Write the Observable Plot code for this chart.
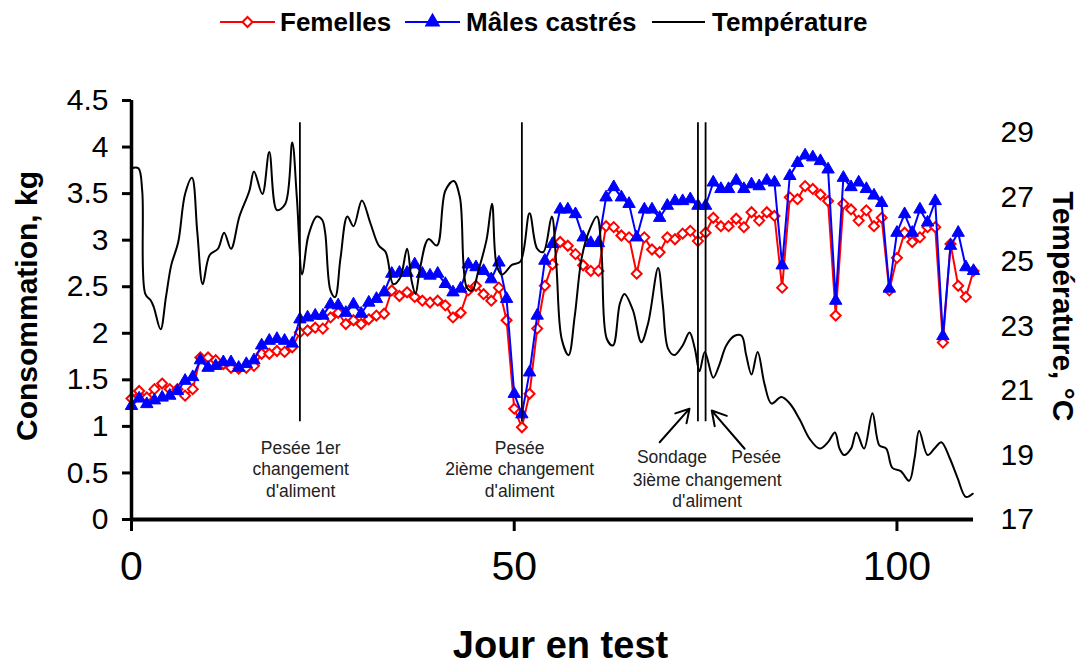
<!DOCTYPE html>
<html><head><meta charset="utf-8">
<script src="https://cdn.jsdelivr.net/npm/d3@7"></script>
<script src="https://cdn.jsdelivr.net/npm/@observablehq/plot@0.6"></script>
<style>
html,body{margin:0;padding:0;background:#fff;}
body{width:1078px;height:668px;overflow:hidden;font-family:"Liberation Sans",Arial,sans-serif;}
#legend{display:block;}
#chart svg{display:block;}
</style></head><body>
<svg id="legend" width="1078" height="46"></svg>
<div id="chart"></div>
<script>
// ---- data ----
const days = d3.range(0, 111); // jour en test 0..110
const femelles = [
  1.30,1.38,1.31,1.40,1.46,1.40,1.40,1.33,1.40,1.74,1.74,1.71,1.67,1.63,1.62,1.63,1.65,1.78,1.78,1.81,1.80,1.85,2.01,2.03,2.06,
  2.05,2.17,2.22,2.10,2.14,2.10,2.15,2.19,2.21,2.46,2.40,2.44,2.39,2.35,2.33,2.35,2.30,2.17,2.22,2.46,2.51,2.42,2.35,2.49,2.14,1.19,0.99,1.35,
  2.05,2.51,2.74,2.98,2.94,2.85,2.73,2.67,2.67,3.15,3.14,3.05,3.03,2.64,3.03,2.90,2.87,3.03,3.01,3.07,3.10,2.99,3.08,3.24,
  3.15,3.15,3.23,3.14,3.30,3.21,3.30,3.26,2.49,3.46,3.44,3.58,3.55,3.49,3.42,2.19,3.39,3.33,3.21,3.32,3.15,3.24,2.46,2.81,3.08,2.98,3.03,3.14,3.14,1.90,2.96,2.51,2.39,2.67
];
const males = [
  1.22,1.30,1.24,1.28,1.31,1.33,1.38,1.49,1.53,1.71,1.63,1.65,1.69,1.69,1.63,1.67,1.71,1.87,1.92,1.94,1.92,1.89,2.15,2.17,2.19,
  2.19,2.31,2.30,2.22,2.31,2.21,2.33,2.37,2.44,2.64,2.65,2.65,2.74,2.64,2.62,2.64,2.53,2.44,2.48,2.74,2.71,2.67,2.58,2.76,2.37,1.35,1.13,1.58,
  2.19,2.78,2.96,3.33,3.33,3.28,3.03,2.97,2.97,3.46,3.57,3.46,3.39,3.03,3.33,3.33,3.24,3.37,3.42,3.42,3.44,3.37,3.37,3.62,
  3.55,3.55,3.64,3.55,3.60,3.58,3.64,3.62,2.73,3.69,3.83,3.91,3.89,3.85,3.76,2.35,3.67,3.57,3.62,3.55,3.48,3.40,2.48,3.08,3.28,3.08,3.33,3.19,3.42,1.97,2.94,3.08,2.71,2.67
];
const tempDays = [
  0.0,0.9,1.4,1.8,2.5,2.9,3.8,4.5,5.2,6.1,7.0,7.9,8.6,9.3,10.2,11.3,12.1,13.0,14.1,15.4,16.0,17.1,18.0,19.0,20.1,21.0,21.6,22.3,23.1,24.2,24.9,
  25.3,26.0,26.6,27.3,28.2,29.0,30.1,31.2,32.3,33.2,34.2,35.1,36.0,36.6,37.1,37.7,38.8,39.9,41.0,42.1,42.9,43.8,44.5,45.3,46.4,47.1,47.7,48.4,49.7,50.8,
  52.0,53.0,53.8,54.9,55.5,56.2,57.1,57.9,58.8,59.7,60.8,61.4,62.1,62.9,63.8,64.4,65.5,66.6,67.5,68.8,69.4,70.1,70.9,72.0,72.9,73.6,74.2,74.9,76.0,76.8,
  77.7,78.8,79.7,80.3,81.0,81.8,82.7,83.6,84.9,86.0,87.3,88.6,89.9,91.0,91.9,92.5,93.1,94.0,94.7,95.7,96.8,97.7,98.6,99.4,100.5,101.6,102.3,102.9,104.0,104.9,105.8,106.9,107.9,109.0,109.9
];
const tempValues = [
  27.9,27.9,27.2,24.0,23.8,23.6,22.9,23.9,24.9,25.6,27.1,27.6,25.9,24.3,25.2,25.4,25.9,25.4,26.4,27.2,27.8,27.1,28.4,26.6,26.8,28.7,27.0,24.6,25.8,26.4,26.3,
  25.9,24.1,23.9,25.1,26.4,26.1,26.9,26.2,25.5,25.3,24.3,24.5,25.4,24.4,24.0,24.8,25.7,25.5,27.2,27.5,27.0,24.2,24.1,24.7,25.7,26.8,24.9,24.6,24.9,25.0,
  26.5,25.4,25.3,26.4,24.9,22.6,22.1,23.3,25.1,25.9,26.4,25.3,22.6,22.4,23.7,24.0,23.5,22.5,23.1,24.8,23.7,22.3,22.1,22.4,22.8,22.3,21.6,22.2,21.4,21.8,
  22.4,22.7,22.7,22.1,21.5,22.2,21.2,20.6,20.8,20.6,20.1,19.5,19.2,19.4,19.7,19.2,19.0,19.2,19.7,19.2,20.3,19.3,19.2,18.6,18.5,18.2,18.9,19.75,19.0,19.2,19.4,18.9,18.3,17.7,17.8
];
const eventDays = [22, 51, 74, 75];
const seriesNames = ["Femelles", "Mâles castrés", "Température"];
const leftTicks = [0, 0.5, 1, 1.5, 2, 2.5, 3, 3.5, 4, 4.5];
const rightTicks = [17, 19, 21, 23, 25, 27, 29];
const xTicks = [0, 50, 100];

// ---- scales helpers ----
const T0 = 17, T1 = 30, Y1 = 4.5;
const toLeft = t => (t - T0) * Y1 / (T1 - T0);
const fromLeft = v => Math.round(T0 + v * (T1 - T0) / Y1);

const rows = days.map((d, i) => ({day: d, fem: femelles[i], male: males[i]}));
const temp = tempDays.map((d, i) => ({day: d, t: toLeft(tempValues[i])}));

const font = '"Liberation Sans", Arial, sans-serif';
const RED = "#ff0000", BLUE = "#0000ff";

// ---- legend ----
const lg = d3.select("#legend");
const legendItems = [
  {name: seriesNames[0], color: RED, sym: d3.symbolDiamond2, size: 64, fill: "white", x1: 220, x2: 275, tx: 280},
  {name: seriesNames[1], color: BLUE, sym: d3.symbolTriangle, size: 66, fill: BLUE, x1: 405, x2: 460, tx: 466},
  {name: seriesNames[2], color: "black", sym: null, x1: 652, x2: 705, tx: 712}
];
for (const it of legendItems) {
  lg.append("line").attr("x1", it.x1).attr("x2", it.x2).attr("y1", 22).attr("y2", 22)
    .attr("stroke", it.color).attr("stroke-width", 2);
  if (it.sym) {
    lg.append("path").attr("d", d3.symbol(it.sym, it.size)())
      .attr("transform", `translate(${(it.x1 + it.x2) / 2},22)`)
      .attr("fill", it.fill).attr("stroke", it.color).attr("stroke-width", 2);
  }
  lg.append("text").attr("x", it.tx).attr("y", 31).text(it.name)
    .attr("font-family", font).attr("font-size", 26).attr("font-weight", "bold");
}

// ---- chart ----
const chart = Plot.plot({
  width: 1078,
  height: 622,
  marginTop: 54,
  marginBottom: 149,
  marginLeft: 131,
  marginRight: 105,
  style: {fontFamily: font, background: "white", color: "black", overflow: "visible"},
  x: {domain: [0, 110]},
  y: {domain: [0, 4.5]},
  marks: [
    Plot.axisX(xTicks, {tickSize: 12, tickPadding: 19, fontSize: 41, strokeWidth: 3, label: null}),
    Plot.axisY(leftTicks, {tickSize: 9, tickPadding: 14, fontSize: 30, strokeWidth: 3, label: null, tickFormat: d => String(d)}),
    Plot.axisY(rightTicks.map(toLeft), {anchor: "right", tickSize: 0, tickPadding: 27, fontSize: 30, label: null, tickFormat: d => String(fromLeft(d))}),
    Plot.line(rows, {x: "day", y: "fem", stroke: RED, strokeWidth: 2}),
    Plot.dot(rows, {x: "day", y: "fem", symbol: "diamond2", r: 4.5, stroke: RED, fill: "white", strokeWidth: 2}),
    Plot.line(rows, {x: "day", y: "male", stroke: BLUE, strokeWidth: 2}),
    Plot.dot(rows, {x: "day", y: "male", symbol: "triangle", r: 4.6, fill: BLUE, stroke: BLUE, strokeWidth: 1}),
    Plot.line(temp, {x: "day", y: "t", curve: "catmull-rom", stroke: "black", strokeWidth: 2}),
    Plot.ruleX(eventDays, {y1: 1.05, y2: 4.26, stroke: "black", strokeWidth: 1.8}),
    Plot.ruleY([0], {stroke: "black", strokeWidth: 4}),
    Plot.ruleX([0], {y1: 0, y2: 4.5, stroke: "black", strokeWidth: 3.5}),
    // annotations
    Plot.text(["Pesée 1er\nchangement\nd'aliment"], {x: 22.1, y: 0.547, fontSize: 17.5, lineHeight: 1.23, fill: "#222"}),
    Plot.text(["Pesée\n2ième changement\nd'aliment"], {x: 50.7, y: 0.547, fontSize: 17.5, lineHeight: 1.23, fill: "#222"}),
    Plot.text(["Sondage"], {x: 70.6, y: 0.665, fontSize: 17.5, fill: "#222"}),
    Plot.text(["Pesée"], {x: 81.6, y: 0.665, fontSize: 17.5, fill: "#222"}),
    Plot.text(["3ième changement\nd'aliment"], {x: 75.2, y: 0.32, fontSize: 17.5, lineHeight: 1.23, fill: "#222"}),
    Plot.arrow([0], {x1: 69.0, y1: 0.83, x2: 72.9, y2: 1.19, stroke: "black", strokeWidth: 2, headLength: 12}),
    Plot.arrow([0], {x1: 80.1, y1: 0.76, x2: 75.8, y2: 1.17, stroke: "black", strokeWidth: 2, headLength: 12}),
    // axis titles
    Plot.text(["Consommation, kg"], {frameAnchor: "left", dx: -104, dy: -4, rotate: -90, textAnchor: "middle", lineAnchor: "middle", fontSize: 30, fontWeight: "bold"}),
    Plot.text(["Température, °C"], {frameAnchor: "right", dx: 89, dy: -3.5, rotate: 90, textAnchor: "middle", lineAnchor: "middle", fontSize: 30, fontWeight: "bold"}),
    Plot.text(["Jour en test"], {frameAnchor: "bottom", dx: 8, dy: 126, textAnchor: "middle", lineAnchor: "middle", fontSize: 38, fontWeight: "bold"})
  ]
});
document.getElementById("chart").appendChild(chart);
</script>
</body></html>
